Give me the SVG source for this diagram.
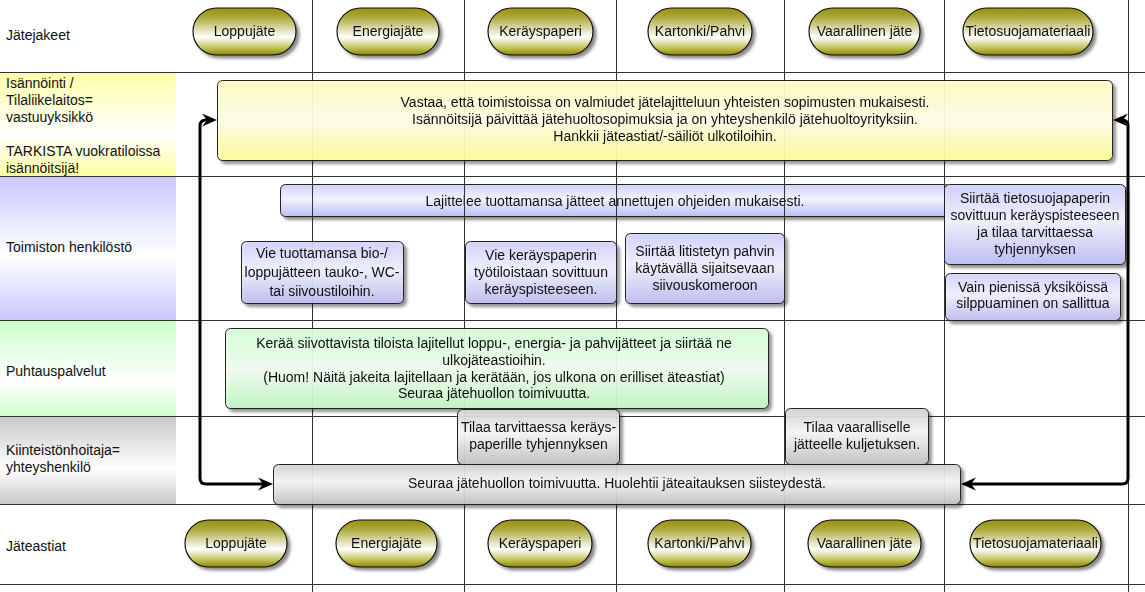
<svg xmlns="http://www.w3.org/2000/svg" width="1145" height="592" viewBox="0 0 1145 592">
<defs>
<style>
text{font-family:"Liberation Sans",Arial,sans-serif;font-size:14px;fill:#111}
.c{text-anchor:middle}
.grid{stroke:#333;stroke-width:1;fill:none}
.box{stroke:#222;stroke-width:1}
.pill{fill:url(#gPill);stroke:#111;stroke-width:1.2}
.conn{fill:none;stroke:#000;stroke-width:3;stroke-linejoin:round}
</style>
<linearGradient id="gPill" x1="0" y1="0" x2="0" y2="1">
<stop offset="0" stop-color="#96920e"/>
<stop offset="0.18" stop-color="#aaa636"/>
<stop offset="0.62" stop-color="#ffffff"/>
<stop offset="0.85" stop-color="#c4c25a"/>
<stop offset="1" stop-color="#8a8700"/>
</linearGradient>
<linearGradient id="lY" x1="0" y1="0" x2="0" y2="1"><stop offset="0" stop-color="#ffffa8"/><stop offset="0.6" stop-color="#ffffff"/><stop offset="1" stop-color="#ffffa0"/></linearGradient>
<linearGradient id="lB" x1="0" y1="0" x2="0" y2="1"><stop offset="0" stop-color="#c8c8ff"/><stop offset="0.55" stop-color="#ffffff"/><stop offset="1" stop-color="#c8c8ff"/></linearGradient>
<linearGradient id="lG" x1="0" y1="0" x2="0" y2="1"><stop offset="0" stop-color="#ccffcc"/><stop offset="0.65" stop-color="#ffffff"/><stop offset="1" stop-color="#ccffcc"/></linearGradient>
<linearGradient id="lK" x1="0" y1="0" x2="0" y2="1"><stop offset="0" stop-color="#c8c8c8"/><stop offset="0.6" stop-color="#ffffff"/><stop offset="1" stop-color="#c8c8c8"/></linearGradient>
<linearGradient id="bY" x1="0" y1="0" x2="0" y2="1"><stop offset="0" stop-color="#ffffc4"/><stop offset="0.5" stop-color="#ffffe8"/><stop offset="1" stop-color="#ffff96"/></linearGradient>
<linearGradient id="bB" x1="0" y1="0" x2="0" y2="1"><stop offset="0" stop-color="#d2d2ff"/><stop offset="0.45" stop-color="#f2f2ff"/><stop offset="1" stop-color="#bebef4"/></linearGradient>
<linearGradient id="bG" x1="0" y1="0" x2="0" y2="1"><stop offset="0" stop-color="#d4ffd4"/><stop offset="0.5" stop-color="#f4fff4"/><stop offset="1" stop-color="#c2f7c2"/></linearGradient>
<linearGradient id="bK" x1="0" y1="0" x2="0" y2="1"><stop offset="0" stop-color="#d2d2d2"/><stop offset="0.42" stop-color="#f8f8f8"/><stop offset="1" stop-color="#c2c2c2"/></linearGradient>
<filter id="sh" x="-5%" y="-20%" width="112%" height="150%">
<feDropShadow dx="3" dy="3" stdDeviation="1.5" flood-color="#000" flood-opacity="0.45"/>
</filter>
<marker id="arr" markerUnits="userSpaceOnUse" markerWidth="16" markerHeight="14" refX="7" refY="6.5" orient="auto-start-reverse">
<path d="M0,0 L15,6.5 L0,13 L5,6.5 Z" fill="#000"/>
</marker>
</defs>
<rect x="0" y="0" width="1145" height="592" fill="#fff"/>
<g id="lanes">
<rect x="0" y="72" width="176" height="104" fill="url(#lY)"/>
<rect x="0" y="176" width="176" height="144" fill="url(#lB)"/>
<rect x="0" y="320" width="176" height="96" fill="url(#lG)"/>
<rect x="0" y="416" width="176" height="88" fill="url(#lK)"/>
<text x="6" y="40">Jätejakeet</text>
<text x="6" y="88">Isännöinti /</text>
<text x="6" y="105">Tilaliikelaitos=</text>
<text x="6" y="122">vastuuyksikkö</text>
<text x="6" y="156">TARKISTA vuokratiloissa</text>
<text x="6" y="173">isännöitsijä!</text>
<text x="6" y="252">Toimiston henkilöstö</text>
<text x="6" y="376">Puhtauspalvelut</text>
<text x="6" y="455">Kiinteistönhoitaja=</text>
<text x="6" y="472">yhteyshenkilö</text>
<text x="6" y="551">Jäteastiat</text>
</g>
<g id="n-lajittelee" filter="url(#sh)">
<rect class="box" x="280.5" y="184.5" width="670" height="32" rx="5" fill="url(#bB)"/>
<text class="c" x="615" y="206">Lajittelee tuottamansa jätteet annettujen ohjeiden mukaisesti.</text>
</g>
<g id="grid" class="grid">
<path d="M0,72.5H1145M0,176.5H1145M0,320.5H1145M0,416.5H1145M0,504.5H1145M0,584.5H1145"/>
<path d="M312.5,0V592M464.5,0V592M616.5,0V592M784.5,0V592M944.5,0V592M1128.5,0V592"/>
</g>
<g id="pills-top">
<g id="p-loppu-top" filter="url(#sh)"><rect class="pill" x="193" y="8" width="103" height="47" rx="23.5"/><text class="c" x="244.5" y="36">Loppujäte</text></g>
<g id="p-energia-top" filter="url(#sh)"><rect class="pill" x="337" y="8" width="102" height="47" rx="23.5"/><text class="c" x="388" y="36">Energiajäte</text></g>
<g id="p-kerays-top" filter="url(#sh)"><rect class="pill" x="488" y="8" width="105" height="47" rx="23.5"/><text class="c" x="540.5" y="36">Keräyspaperi</text></g>
<g id="p-kartonki-top" filter="url(#sh)"><rect class="pill" x="648" y="8" width="104" height="47" rx="23.5"/><text class="c" x="700" y="36">Kartonki/Pahvi</text></g>
<g id="p-vaarallinen-top" filter="url(#sh)"><rect class="pill" x="809" y="8" width="111" height="47" rx="23.5"/><text class="c" x="864.5" y="36">Vaarallinen jäte</text></g>
<g id="p-tietosuoja-top" filter="url(#sh)"><rect class="pill" x="963" y="8" width="130" height="47" rx="23.5"/><text class="c" x="1028" y="36">Tietosuojamateriaali</text></g>
</g>
<g id="n-vastaa" filter="url(#sh)">
<rect class="box" x="217.5" y="80.5" width="895" height="80" rx="5" fill="url(#bY)" fill-opacity="0.9"/>
<text class="c" x="665" y="107">Vastaa, että toimistoissa on valmiudet jätelajitteluun yhteisten sopimusten mukaisesti.</text>
<text class="c" x="665" y="124">Isännöitsijä päivittää jätehuoltosopimuksia ja on yhteyshenkilö jätehuoltoyrityksiin.</text>
<text class="c" x="665" y="141">Hankkii jäteastiat/-säiliöt ulkotiloihin.</text>
</g>
<g id="n-vie-bio" filter="url(#sh)">
<rect class="box" x="241.5" y="241.5" width="162" height="62" rx="5" fill="url(#bB)" fill-opacity="0.9"/>
<text class="c" x="322" y="258">Vie tuottamansa bio-/</text>
<text class="c" x="322" y="277">loppujätteen tauko-, WC-</text>
<text class="c" x="322" y="296">tai siivoustiloihin.</text>
</g>
<g id="n-vie-kerays" filter="url(#sh)">
<rect class="box" x="465.5" y="241.5" width="151" height="62" rx="5" fill="url(#bB)" fill-opacity="0.9"/>
<text class="c" x="541" y="260">Vie keräyspaperin</text>
<text class="c" x="541" y="277">työtiloistaan sovittuun</text>
<text class="c" x="541" y="294">keräyspisteeseen.</text>
</g>
<g id="n-pahvi" filter="url(#sh)">
<rect class="box" x="625.5" y="233.5" width="159" height="70" rx="5" fill="url(#bB)" fill-opacity="0.9"/>
<text class="c" x="705" y="256">Siirtää litistetyn pahvin</text>
<text class="c" x="705" y="273">käytävällä sijaitsevaan</text>
<text class="c" x="705" y="290">siivouskomeroon</text>
</g>
<g id="n-tietosuoja" filter="url(#sh)">
<rect class="box" x="944.5" y="184.5" width="181" height="80" rx="5" fill="url(#bB)" fill-opacity="0.95"/>
<text class="c" x="1035" y="203">Siirtää tietosuojapaperin</text>
<text class="c" x="1035" y="220">sovittuun keräyspisteeseen</text>
<text class="c" x="1035" y="237">ja tilaa tarvittaessa</text>
<text class="c" x="1035" y="254">tyhjennyksen</text>
</g>
<g id="n-silppu" filter="url(#sh)">
<rect class="box" x="945.5" y="273.5" width="175" height="47" rx="5" fill="url(#bB)" fill-opacity="0.9"/>
<text class="c" x="1033" y="292">Vain pienissä yksiköissä</text>
<text class="c" x="1033" y="308">silppuaminen on sallittua</text>
</g>
<g id="n-keraa" filter="url(#sh)">
<rect class="box" x="225.5" y="328.5" width="543" height="80" rx="5" fill="url(#bG)" fill-opacity="0.9"/>
<text class="c" x="494" y="348">Kerää siivottavista tiloista lajitellut loppu-, energia- ja pahvijätteet ja siirtää ne</text>
<text class="c" x="494" y="365">ulkojäteastioihin.</text>
<text class="c" x="494" y="382">(Huom! Näitä jakeita lajitellaan ja kerätään, jos ulkona on erilliset äteastiat)</text>
<text class="c" x="494" y="398">Seuraa jätehuollon toimivuutta.</text>
</g>
<g id="n-tilaa-kerays" filter="url(#sh)">
<rect class="box" x="457.5" y="409.5" width="162" height="55" rx="5" fill="url(#bK)" fill-opacity="0.92"/>
<text class="c" x="538.5" y="432">Tilaa tarvittaessa keräys-</text>
<text class="c" x="538.5" y="449">paperille tyhjennyksen</text>
</g>
<g id="n-tilaa-vaarallinen" filter="url(#sh)">
<rect class="box" x="785.5" y="408.5" width="143" height="56" rx="5" fill="url(#bK)" fill-opacity="0.92"/>
<text class="c" x="857" y="432">Tilaa vaaralliselle</text>
<text class="c" x="857" y="449">jätteelle kuljetuksen.</text>
</g>
<g id="n-seuraa" filter="url(#sh)">
<rect class="box" x="273.5" y="464.5" width="687" height="40" rx="5" fill="url(#bK)" fill-opacity="0.9"/>
<text class="c" x="617" y="488">Seuraa jätehuollon toimivuutta. Huolehtii jäteaitauksen siisteydestä.</text>
</g>
<g id="pills-bottom">
<g id="p-loppu-bot" filter="url(#sh)"><rect class="pill" x="185" y="520" width="102" height="47" rx="23.5"/><text class="c" x="236" y="548">Loppujäte</text></g>
<g id="p-energia-bot" filter="url(#sh)"><rect class="pill" x="336" y="520" width="101" height="47" rx="23.5"/><text class="c" x="386.5" y="548">Energiajäte</text></g>
<g id="p-kerays-bot" filter="url(#sh)"><rect class="pill" x="488" y="520" width="104" height="47" rx="23.5"/><text class="c" x="540" y="548">Keräyspaperi</text></g>
<g id="p-kartonki-bot" filter="url(#sh)"><rect class="pill" x="648" y="520" width="103" height="47" rx="23.5"/><text class="c" x="699.5" y="548">Kartonki/Pahvi</text></g>
<g id="p-vaarallinen-bot" filter="url(#sh)"><rect class="pill" x="808" y="520" width="113" height="47" rx="23.5"/><text class="c" x="864.5" y="548">Vaarallinen jäte</text></g>
<g id="p-tietosuoja-bot" filter="url(#sh)"><rect class="pill" x="970" y="520" width="131" height="47" rx="23.5"/><text class="c" x="1035.5" y="548">Tietosuojamateriaali</text></g>
</g>
<g id="connectors">
<path class="conn" d="M265,484 H206 Q200,484 200,478 V126 Q200,120 206,120 H209" marker-start="url(#arr)" marker-end="url(#arr)"/>
<path class="conn" d="M1121,120 H1122 Q1128,120 1128,126 V478 Q1128,484 1122,484 H969" marker-start="url(#arr)" marker-end="url(#arr)"/>
</g>
</svg>
